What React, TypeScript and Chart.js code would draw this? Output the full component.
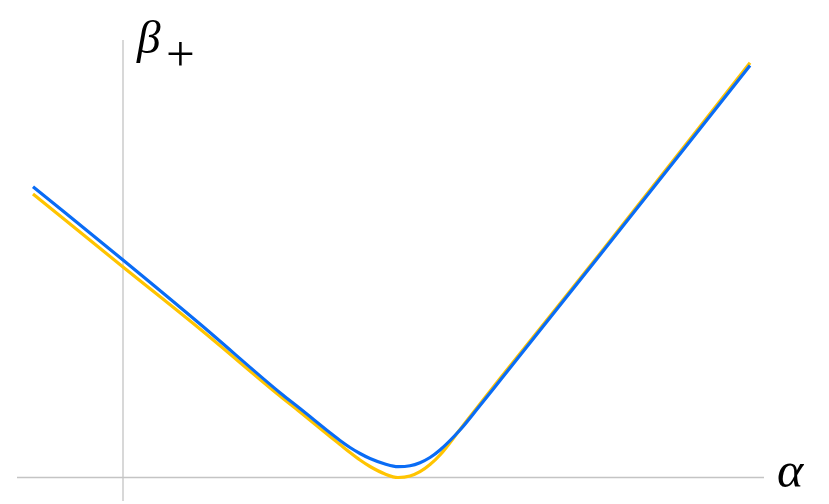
import React, { useEffect, useRef } from "react";
import { Chart, registerables } from "chart.js";

Chart.register(...registerables);

// alpha sample positions (x values)
const alphaValues = [-0.9, 0.0, 0.77, 1.57, 1.77, 2.07, 2.17, 2.27, 2.37, 2.47, 2.62, 2.75, 2.87, 2.97, 3.07, 3.17, 3.37, 3.55, 3.77, 4.77, 6.27];
// blue curve beta_+ values
const blueBeta = [2.908, 2.175, 1.535, 0.848, 0.69, 0.448, 0.37, 0.3, 0.24, 0.19, 0.135, 0.108, 0.117, 0.148, 0.2, 0.275, 0.475, 0.695, 0.97, 2.225, 4.12];
// yellow curve beta_+ values
const yellowBeta = [2.835, 2.105, 1.485, 0.815, 0.655, 0.41, 0.33, 0.25, 0.175, 0.11, 0.035, 0.0, 0.015, 0.058, 0.13, 0.225, 0.48, 0.71, 0.99, 2.24, 4.148];

const xMin = -1.23;
const xMax = 7.06;
const yMin = -0.265;
const yMax = 4.775;

const SERIF = "'Liberation Serif', serif";

// draw a glyph so that its ink box starts at (left, top) with the given ink height
function drawFit(ctx: CanvasRenderingContext2D, text: string, style: string, left: number, top: number, inkHeight: number) {
  ctx.font = style + " 100px " + SERIF;
  const m0 = ctx.measureText(text);
  const h0 = m0.actualBoundingBoxAscent + m0.actualBoundingBoxDescent;
  const size = h0 > 0 ? (100 * inkHeight) / h0 : inkHeight;
  ctx.font = style + " " + size.toFixed(2) + "px " + SERIF;
  const m = ctx.measureText(text);
  ctx.fillText(text, left + m.actualBoundingBoxLeft, top + m.actualBoundingBoxAscent);
}

const axesPlugin = {
  id: "mathAxes",
  beforeDatasetsDraw(chart: any) {
    const { ctx, scales } = chart;
    const xs = scales.x;
    const ys = scales.y;
    const x0 = xs.getPixelForValue(0);
    const y0 = ys.getPixelForValue(0);
    ctx.save();
    ctx.strokeStyle = "#c4c4c4";
    ctx.lineWidth = 1.3;
    ctx.beginPath();
    ctx.moveTo(xs.getPixelForValue(-1.06), y0);
    ctx.lineTo(xs.getPixelForValue(6.41), y0);
    ctx.moveTo(x0, ys.getPixelForValue(4.375));
    ctx.lineTo(x0, ys.getPixelForValue(-0.235));
    ctx.stroke();
    ctx.restore();
  },
  afterDraw(chart: any) {
    const { ctx, scales } = chart;
    const xs = scales.x;
    const ys = scales.y;
    const x0 = xs.getPixelForValue(0);
    const y0 = ys.getPixelForValue(0);
    ctx.save();
    ctx.fillStyle = "#000";
    ctx.textAlign = "left";
    ctx.textBaseline = "alphabetic";
    drawFit(ctx, "β", "italic", x0 + 13, 20, 43);
    drawFit(ctx, "+", "normal", x0 + 45, 42, 24);
    drawFit(ctx, "α", "italic", xs.getPixelForValue(6.55), y0 - 14.5, 24);
    ctx.restore();
  },
};

export default function App() {
  const canvasRef = useRef<HTMLCanvasElement | null>(null);

  useEffect(() => {
    const canvas = canvasRef.current;
    if (!canvas) return;
    let chart: Chart | null = null;
    let cancelled = false;
    const build = () => {
      if (cancelled) return;
      chart = new Chart(canvas, {
        type: "line",
        data: {
          datasets: [
            {
              label: "blue",
              data: alphaValues.map((a, i) => ({ x: a, y: blueBeta[i] })),
              borderColor: "#0a6cf5",
              borderWidth: 3.2,
              pointRadius: 0,
              cubicInterpolationMode: "monotone",
              fill: false,
              order: 0,
            },
            {
              label: "yellow",
              data: alphaValues.map((a, i) => ({ x: a, y: yellowBeta[i] })),
              borderColor: "#ffc400",
              borderWidth: 3.2,
              pointRadius: 0,
              cubicInterpolationMode: "monotone",
              fill: false,
              order: 1,
            },
          ],
        },
        options: {
          responsive: false,
          animation: false,
          layout: { padding: 0 },
          plugins: { legend: { display: false }, tooltip: { enabled: false } },
          scales: {
            x: { type: "linear", min: xMin, max: xMax, display: false },
            y: { type: "linear", min: yMin, max: yMax, display: false },
          },
        },
        plugins: [axesPlugin],
      });
    };
    const fonts = (document as any).fonts;
    if (fonts && fonts.load) {
      Promise.all([
        fonts.load("italic 48px 'Liberation Serif'", "βα"),
        fonts.load("48px 'Liberation Serif'", "+"),
      ])
        .catch(() => null)
        .then(build);
    } else {
      build();
    }
    return () => {
      cancelled = true;
      if (chart) chart.destroy();
    };
  }, []);

  return (
    <div style={{ position: "fixed", left: 0, top: 0, width: 829, height: 504, background: "#fff" }}>
      <canvas ref={canvasRef} width={829} height={504} />
    </div>
  );
}
